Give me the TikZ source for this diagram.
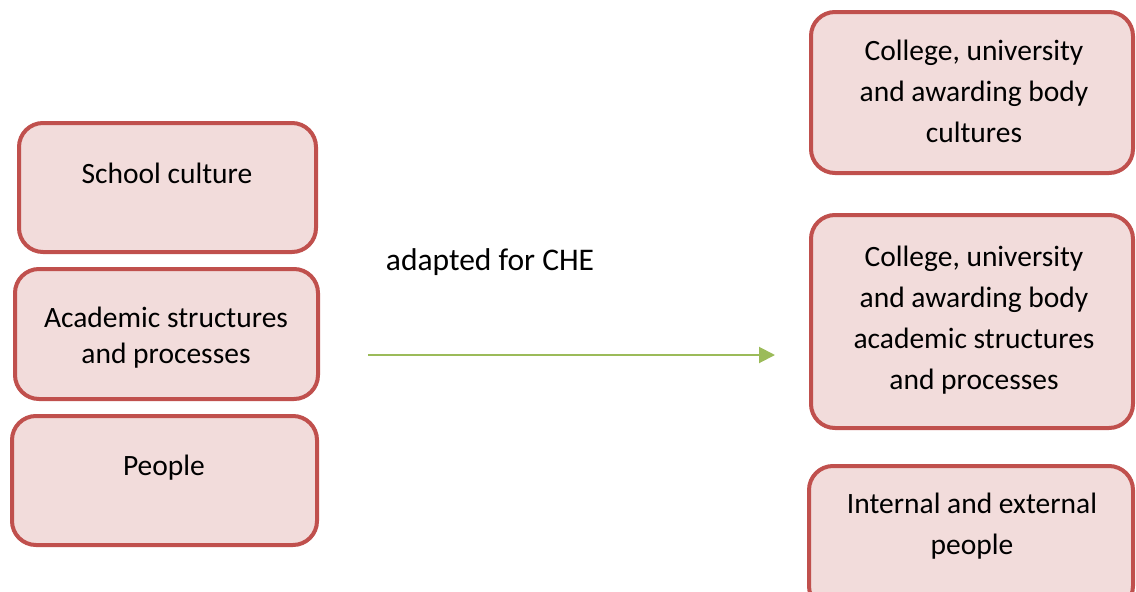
\documentclass[tikz,border=0pt]{standalone}
\usepackage{fontspec}
\setmainfont{Carlito}
\usetikzlibrary{arrows.meta}
\definecolor{boxred}{HTML}{C0504D}
\definecolor{boxfill}{HTML}{F2DCDB}
\definecolor{arrowgreen}{HTML}{9BBB59}
\begin{document}
\begin{tikzpicture}[x=1pt,y=-1pt,
  box/.style={draw=boxred, fill=boxfill, line width=4pt, rounded corners=24pt,
    inner sep=0pt, outer sep=0pt},
  txt/.style={font=\fontsize{29.5}{41}\selectfont, align=center, anchor=base, inner sep=0pt},
  txtl/.style={font=\fontsize{29.5}{36}\selectfont, align=center, anchor=base, inner sep=0pt},
  lbl/.style={font=\fontsize{31.5}{38}\selectfont, anchor=base, inner sep=0pt},
  conn/.style={draw=arrowgreen, line width=2pt, -{Triangle[length=16pt,width=16pt]}}
]
\useasboundingbox (0,0) rectangle (1136,592);
% left boxes
\node[box, minimum width=297pt, minimum height=129pt] (l1) at (167.5,187.5) {};
\node[box, minimum width=303pt, minimum height=130pt] (l2) at (166.5,334) {};
\node[box, minimum width=305pt, minimum height=129pt] (l3) at (164.5,480.5) {};
% right boxes
\node[box, minimum width=322pt, minimum height=161pt] (r1) at (972,92.5) {};
\node[box, minimum width=322pt, minimum height=213pt] (r2) at (972,321.5) {};
\node[box, minimum width=324pt, minimum height=144pt] (r3) at (971,538) {};
% texts (anchor=base is the baseline of the last line)
\node[txt] (t1) at (167,183) {School culture};
\node[txtl] (t2) at (166,363) {Academic structures\\and processes};
\node[txt] (t3) at (164,475) {People};
\node[txt] (t4) at (974,142) {College, university\\and awarding body\\cultures};
\node[txt] (t5) at (974,389) {College, university\\and awarding body\\academic structures\\and processes};
\node[txt] (t6) at (972,554) {Internal and external\\people};
\node[lbl] (lab) at (490,270) {adapted for CHE};
% connector
\coordinate (a1) at (368,355);
\coordinate (a2) at (775,355);
\draw[conn] (a1) -- (a2);
\end{tikzpicture}
\end{document}
